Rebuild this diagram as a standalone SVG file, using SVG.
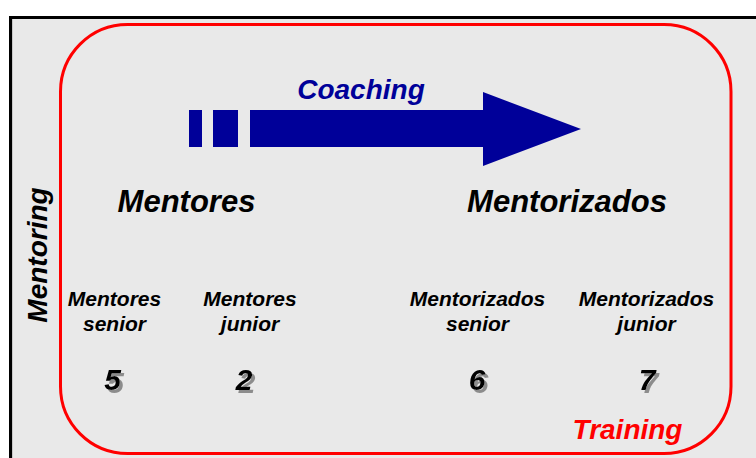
<svg xmlns="http://www.w3.org/2000/svg" width="756" height="458" viewBox="0 0 756 458">
<defs>
<filter id="shadow" x="-30%" y="-30%" width="160%" height="160%">
<feOffset in="SourceAlpha" dx="2.5" dy="2.5" result="o"/>
<feFlood flood-color="#8c8c8c"/>
<feComposite in2="o" operator="in" result="s"/>
<feMerge><feMergeNode in="s"/><feMergeNode in="SourceGraphic"/></feMerge>
</filter>
</defs>
<style>
text{font-family:"Liberation Sans",Arial,sans-serif;font-weight:bold;font-style:italic;text-anchor:middle}
.big{font-size:31px;fill:#000}
.sm{font-size:21px;fill:#000}
.num{font-size:30px;fill:#000;filter:url(#shadow)}
.blue{fill:#000099}
</style>
<rect x="0" y="0" width="756" height="458" fill="#fff"/>
<rect x="10.5" y="17.5" width="760" height="460" fill="#e9e9e9" stroke="#000" stroke-width="3"/>
<line x1="12.5" y1="19" x2="12.5" y2="458" stroke="#c8c8c8" stroke-width="1"/>
<g id="frame">
<rect x="60.5" y="24.5" width="670.5" height="429" rx="67" ry="67" fill="none" stroke="#ff0000" stroke-width="3"/>
</g>
<g id="connectors">
<rect x="189" y="110" width="13" height="37" class="blue"/>
<rect x="213" y="110" width="25" height="37" class="blue"/>
<polygon points="250,110 483,110 483,92 581,129 483,166 483,147 250,147" class="blue"/>
<text x="361" y="99" style="font-size:28px" class="blue">Coaching</text>
</g>
<g id="mentores"><text x="186.5" y="212" class="big">Mentores</text></g>
<g id="mentorizados"><text x="567" y="212" class="big">Mentorizados</text></g>
<g id="mentoring"><text transform="translate(47,255) rotate(-90)" style="font-size:28px" fill="#000">Mentoring</text></g>
<g id="ms">
<text x="114.5" y="306" class="sm">Mentores</text>
<text x="114.5" y="331" class="sm">senior</text>
<text x="112.5" y="390" class="num">5</text>
</g>
<g id="mj">
<text x="250" y="306" class="sm">Mentores</text>
<text x="250" y="331" class="sm">junior</text>
<text x="244" y="390" class="num">2</text>
</g>
<g id="mzs">
<text x="477.5" y="306" class="sm">Mentorizados</text>
<text x="477.5" y="331" class="sm">senior</text>
<text x="477" y="390" class="num">6</text>
</g>
<g id="mzj">
<text x="646.5" y="306" class="sm">Mentorizados</text>
<text x="646.5" y="331" class="sm">junior</text>
<text x="647" y="390" class="num">7</text>
</g>
<g id="training"><text x="627.5" y="439" style="font-size:28px" fill="#ff0000">Training</text></g>
</svg>
